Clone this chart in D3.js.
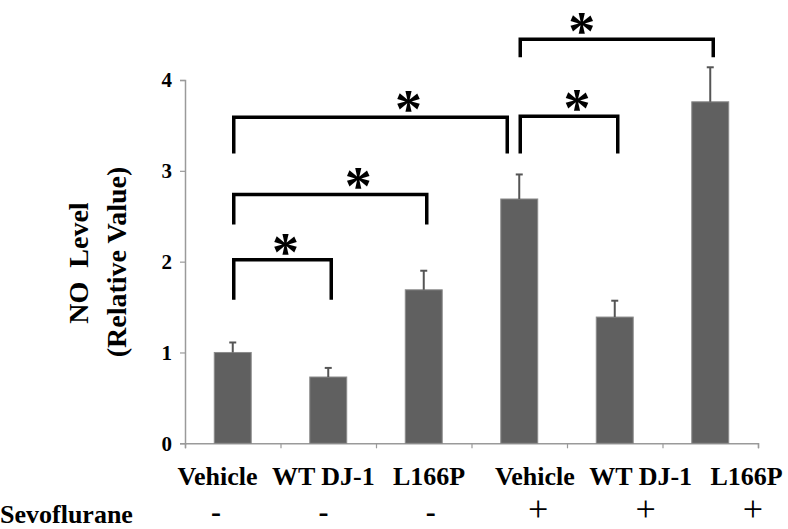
<!DOCTYPE html>
<html>
<head>
<meta charset="utf-8">
<script src="https://cdn.jsdelivr.net/npm/d3@7"></script>
<style>
  body { margin: 0; background: #fff; }
  svg text { font-family: "Liberation Serif", "Tinos", "DejaVu Serif", serif; }
</style>
</head>
<body>
<div id="chart"></div>
<script>
// DATA
const groups = ["Vehicle", "WT DJ-1", "L166P", "Vehicle", "WT DJ-1", "L166P"];
const sevo = ["-", "-", "-", "+", "+", "+"];
const noLevel = [1.0, 0.73, 1.69, 2.69, 1.39, 3.76];
const noErr = [0.11, 0.10, 0.21, 0.27, 0.18, 0.38];
const yTicks = [0, 1, 2, 3, 4];
// significance brackets: bar index from/to, line level and leg end (relative value)
const sigFrom = [0, 0, 0, 3, 3];
const sigTo = [1, 2, 3, 4, 5];
const sigTop = [2.02, 2.74, 3.59, 3.60, 4.45];
const sigLeg = [1.58, 2.41, 3.19, 3.19, 4.25];

// CHART
const svgWidth = 788, svgHeight = 529;
const serif = "'Liberation Serif', Tinos, 'DejaVu Serif', serif";
const svg = d3.select("#chart").append("svg")
  .attr("width", svgWidth)
  .attr("height", svgHeight)
  .attr("font-family", serif);

const idx = d3.range(groups.length);

const x = d3.scaleBand()
  .domain(idx)
  .range([185, 758])
  .paddingInner(0.613)
  .paddingOuter(0.3065);

const xEdge = d3.scaleLinear().domain([0, groups.length]).range([185, 758]);

const y = d3.scaleLinear().domain([0, 4]).range([443.3, 80]);

const cx = i => x(i) + x.bandwidth() / 2;

// y axis
const yAxis = svg.append("g")
  .attr("transform", "translate(185,0)")
  .call(d3.axisLeft(y).tickValues(yTicks).tickSize(5).tickPadding(8).tickFormat(d3.format("d")));
yAxis.attr("font-family", serif);
yAxis.select(".domain").attr("stroke", "#9a9a9a").attr("stroke-width", 1.5);
yAxis.selectAll(".tick line").attr("stroke", "#9a9a9a").attr("stroke-width", 1.2);
yAxis.selectAll(".tick text")
  .attr("font-size", 21)
  .attr("font-weight", "bold")
  .attr("fill", "#000");

// x axis (ticks between groups)
const xAxis = svg.append("g")
  .attr("transform", `translate(0,${y(0)})`)
  .call(d3.axisBottom(xEdge).tickValues(d3.range(groups.length + 1)).tickSize(5).tickFormat(""));
xAxis.select(".domain").attr("stroke", "#9a9a9a").attr("stroke-width", 1.5);
xAxis.selectAll(".tick line").attr("stroke", "#9a9a9a").attr("stroke-width", 1.2);

// bars
svg.append("g").selectAll("rect")
  .data(noLevel)
  .join("rect")
  .attr("x", (d, i) => x(i))
  .attr("y", d => y(d))
  .attr("width", x.bandwidth())
  .attr("height", d => y(0) - y(d))
  .attr("fill", "#606060")
  .attr("stroke", "#8c8c8c")
  .attr("stroke-width", 1);

// error bars (upper only)
const err = svg.append("g")
  .attr("stroke", "#555")
  .attr("stroke-width", 2);
err.selectAll("line.stem")
  .data(noLevel)
  .join("line")
  .attr("class", "stem")
  .attr("x1", (d, i) => cx(i))
  .attr("x2", (d, i) => cx(i))
  .attr("y1", d => y(d))
  .attr("y2", (d, i) => y(d + noErr[i]));
err.selectAll("line.cap")
  .data(noLevel)
  .join("line")
  .attr("class", "cap")
  .attr("x1", (d, i) => cx(i) - 3.5)
  .attr("x2", (d, i) => cx(i) + 3.5)
  .attr("y1", (d, i) => y(d + noErr[i]))
  .attr("y2", (d, i) => y(d + noErr[i]));

// significance brackets
const sigIdx = d3.range(sigFrom.length);
// pull a right leg in a little when another bracket starts at the same bar
const rightX = k => {
  const clash = sigFrom.some((f, j) => j !== k && f === sigTo[k]);
  return cx(sigTo[k]) + (clash ? -12 : 3);
};
const leftX = k => cx(sigFrom[k]) + 1;
const starShift = [3, 28, 38, 8, -35];

svg.append("g").selectAll("path")
  .data(sigIdx)
  .join("path")
  .attr("d", k => `M${leftX(k)},${y(sigLeg[k])}V${y(sigTop[k])}H${rightX(k)}V${y(sigLeg[k])}`)
  .attr("fill", "none")
  .attr("stroke", "#000")
  .attr("stroke-width", 3.5);

svg.append("g").selectAll("text")
  .data(sigIdx)
  .join("text")
  .attr("x", k => (leftX(k) + rightX(k)) / 2 + starShift[k])
  .attr("y", k => y(sigTop[k]) + 10)
  .attr("text-anchor", "middle")
  .attr("font-size", 54)
  .attr("font-weight", "bold")
  .text("*");

// y axis title
svg.append("text")
  .attr("transform", "translate(88,263) rotate(-90)")
  .attr("text-anchor", "middle")
  .attr("font-size", 28)
  .attr("font-weight", "bold")
  .style("white-space", "pre")
  .text("NO  Level");
svg.append("text")
  .attr("transform", "translate(126,262) rotate(-90)")
  .attr("text-anchor", "middle")
  .attr("font-size", 28)
  .attr("font-weight", "bold")
  .text("(Relative Value)");

// group labels and sevoflurane row
const labelX = d3.scalePoint().domain(idx).range([217.5, 746.5]);
const signX = d3.scalePoint().domain(idx).range([216, 753]);

svg.append("g").selectAll("text")
  .data(groups)
  .join("text")
  .attr("x", (d, i) => labelX(i))
  .attr("y", 485)
  .attr("text-anchor", "middle")
  .attr("font-size", 26)
  .attr("font-weight", "bold")
  .text(d => d);

svg.append("text")
  .attr("x", 0)
  .attr("y", 523)
  .attr("font-size", 26)
  .attr("font-weight", "bold")
  .text("Sevoflurane");

svg.append("g").selectAll("text")
  .data(sevo)
  .join("text")
  .attr("x", (d, i) => signX(i))
  .attr("y", d => d === "+" ? 521 : 522)
  .attr("text-anchor", "middle")
  .attr("font-size", d => d === "+" ? 36 : 30)
  .attr("font-weight", d => d === "+" ? "normal" : "bold")
  .text(d => d);
</script>
</body>
</html>
